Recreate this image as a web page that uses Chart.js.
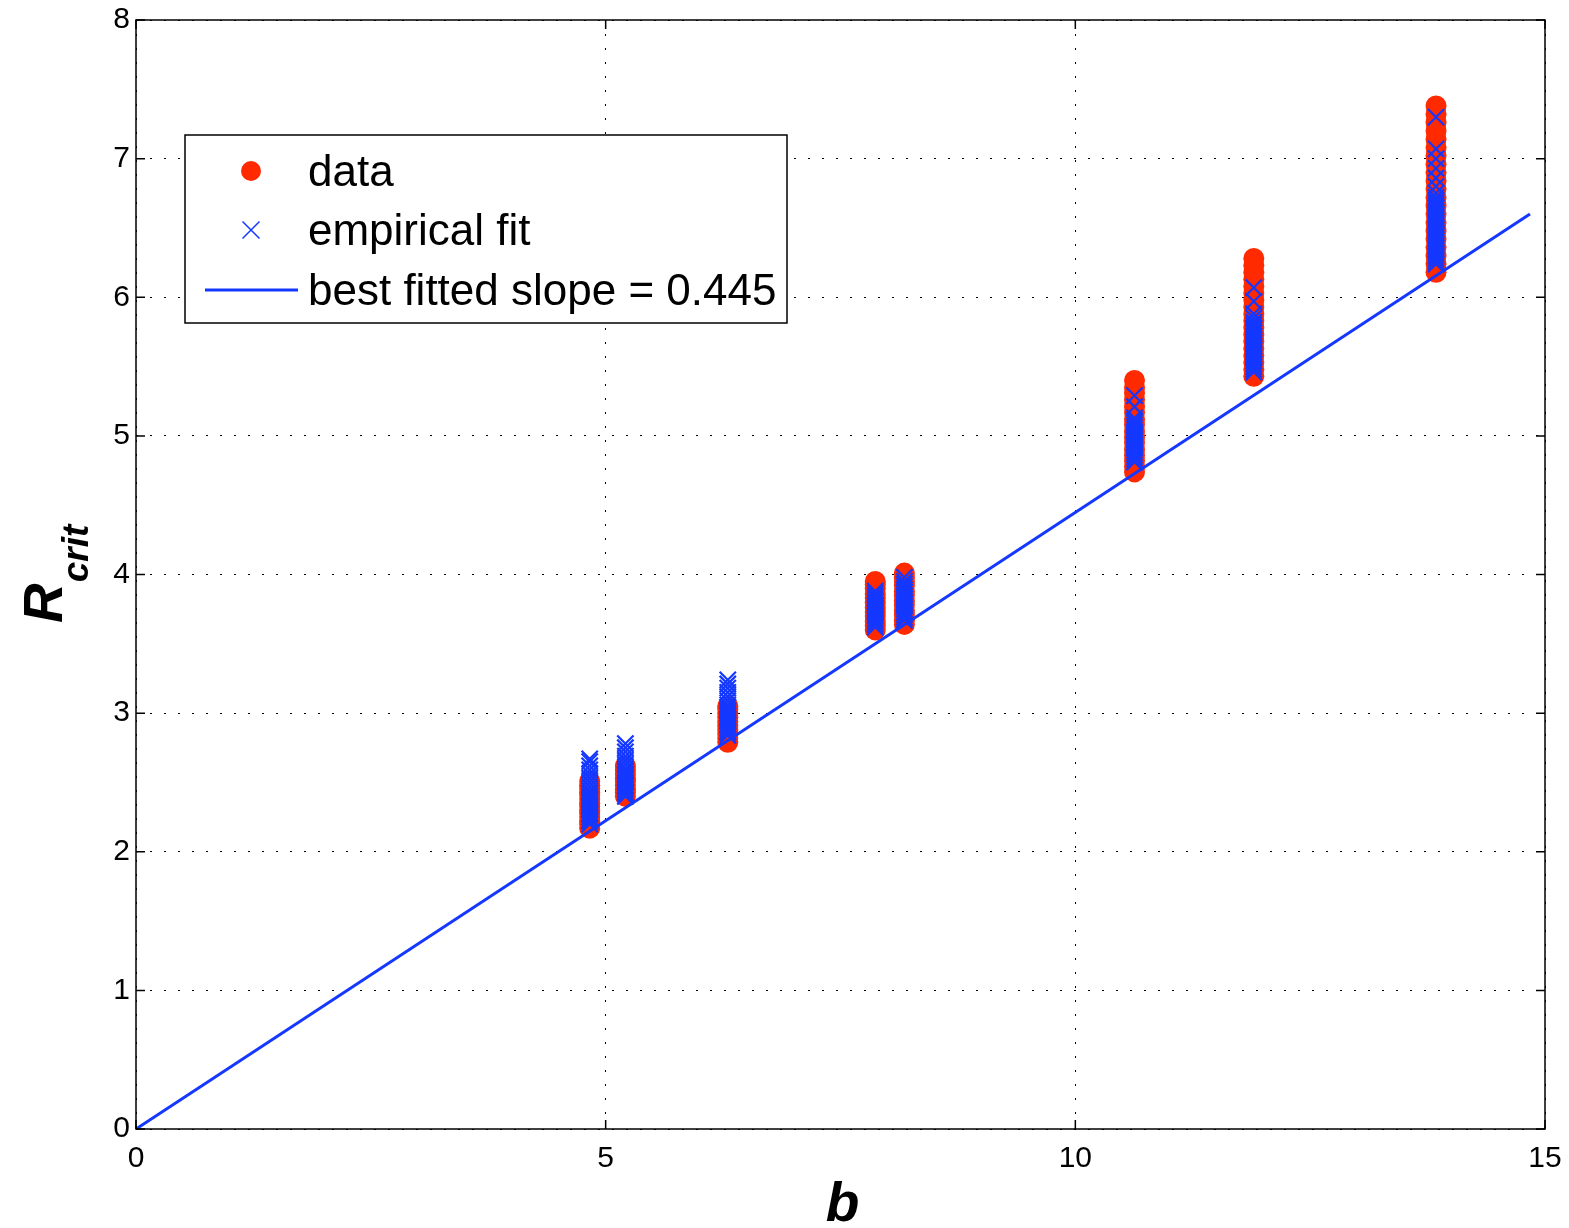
<!DOCTYPE html>
<html>
<head>
<meta charset="utf-8">
<title>R_crit vs b</title>
<script src="https://cdn.jsdelivr.net/npm/chart.js@4.4.0/dist/chart.umd.min.js"></script>
<style>
  html, body { margin: 0; padding: 0; background: #fff; }
  #wrap { width: 1569px; height: 1228px; position: relative; }
</style>
</head>
<body>
<div id="wrap"><canvas id="chart-rcrit"></canvas></div>
<script>
// b value of each cluster of runs
const clusterB = [4.83, 5.21, 6.30, 7.87, 8.18, 10.63, 11.90, 13.84];

// measured R_crit (red dots), one list per cluster
const dataR = [
  [2.17, 2.20, 2.22, 2.25, 2.28, 2.30, 2.33, 2.35, 2.38, 2.41, 2.43, 2.46, 2.48, 2.51],
  [2.40, 2.43, 2.45, 2.48, 2.51, 2.53, 2.56, 2.59, 2.62],
  [2.79, 2.82, 2.85, 2.88, 2.91, 2.94, 2.97, 3.00, 3.03, 3.05],
  [3.60, 3.63, 3.66, 3.70, 3.73, 3.76, 3.80, 3.83, 3.86, 3.90, 3.93, 3.95],
  [3.64, 3.67, 3.71, 3.74, 3.78, 3.81, 3.85, 3.88, 3.92, 3.95, 3.98, 4.01],
  [4.74, 4.78, 4.82, 4.86, 4.90, 4.95, 4.99, 5.03, 5.08, 5.12, 5.17, 5.21, 5.26, 5.31, 5.35, 5.40],
  [5.43, 5.48, 5.53, 5.58, 5.63, 5.68, 5.73, 5.78, 5.83, 5.88, 5.93, 5.98, 6.03, 6.08, 6.13, 6.18, 6.23, 6.28],
  [6.18, 6.24, 6.30, 6.36, 6.42, 6.48, 6.54, 6.60, 6.66, 6.72, 6.78, 6.84, 6.90, 6.96, 7.02, 7.08, 7.14, 7.20, 7.26, 7.32, 7.38]
];

// empirical fit (blue crosses), one list per cluster
const fitR = [
  [2.20, 2.22, 2.23, 2.25, 2.27, 2.28, 2.30, 2.32, 2.33, 2.35, 2.37, 2.38, 2.40, 2.42, 2.44, 2.47, 2.50, 2.53, 2.56, 2.59, 2.62, 2.65, 2.67],
  [2.40, 2.42, 2.43, 2.45, 2.47, 2.48, 2.50, 2.52, 2.54, 2.56, 2.58, 2.60, 2.63, 2.66, 2.69, 2.72, 2.75, 2.78],
  [2.84, 2.86, 2.87, 2.89, 2.91, 2.92, 2.94, 2.96, 2.98, 3.00, 3.02, 3.04, 3.06, 3.09, 3.12, 3.15, 3.18, 3.21, 3.24],
  [3.62, 3.64, 3.66, 3.68, 3.70, 3.72, 3.74, 3.76, 3.78, 3.80, 3.82, 3.84, 3.86, 3.88],
  [3.67, 3.69, 3.71, 3.73, 3.75, 3.77, 3.79, 3.81, 3.83, 3.85, 3.87, 3.89, 3.91, 3.93, 3.95, 3.98],
  [4.81, 4.83, 4.85, 4.87, 4.89, 4.91, 4.93, 4.95, 4.97, 4.99, 5.01, 5.03, 5.05, 5.07, 5.09, 5.11, 5.13, 5.21, 5.29],
  [5.46, 5.48, 5.50, 5.52, 5.54, 5.56, 5.58, 5.60, 5.62, 5.64, 5.66, 5.68, 5.70, 5.72, 5.74, 5.76, 5.78, 5.80, 5.82, 5.85, 5.88, 5.97, 6.07],
  [6.24, 6.26, 6.28, 6.30, 6.32, 6.34, 6.36, 6.38, 6.40, 6.42, 6.44, 6.46, 6.48, 6.50, 6.52, 6.54, 6.56, 6.58, 6.60, 6.62, 6.64, 6.66, 6.68, 6.70, 6.72, 6.75, 6.80, 6.86, 6.93, 7.00, 7.07, 7.30]
];

// ends of the best fitted line through the origin
const lineB = [0, 14.84];
const lineR = [0, 6.60];

const xTicks = [0, 5, 10, 15];
const yTicks = [0, 1, 2, 3, 4, 5, 6, 7, 8];

const RED = '#ff2a00';
const BLUE = '#1438ff';
const FONT = '"Liberation Sans", Arial, Helvetica, sans-serif';

function toPoints(bs, lists) {
  const pts = [];
  lists.forEach((list, i) => list.forEach(r => pts.push({ x: bs[i], y: r })));
  return pts;
}

// box round the axes with inward ticks, like matlab
const boxPlugin = {
  id: 'box',
  afterDatasetsDraw(chart) {
    const { ctx, chartArea: a, scales } = chart;
    ctx.save();
    ctx.strokeStyle = '#000';
    ctx.lineWidth = 1.5;
    ctx.strokeRect(a.left, a.top, a.right - a.left, a.bottom - a.top);
    const tl = 9;
    ctx.beginPath();
    xTicks.forEach(v => {
      const px = scales.x.getPixelForValue(v);
      ctx.moveTo(px, a.bottom); ctx.lineTo(px, a.bottom - tl);
      ctx.moveTo(px, a.top); ctx.lineTo(px, a.top + tl);
    });
    yTicks.forEach(v => {
      const py = scales.y.getPixelForValue(v);
      ctx.moveTo(a.left, py); ctx.lineTo(a.left + tl, py);
      ctx.moveTo(a.right, py); ctx.lineTo(a.right - tl, py);
    });
    ctx.stroke();
    ctx.restore();
  }
};

// legend box inside the axes
const legendPlugin = {
  id: 'boxLegend',
  afterDraw(chart) {
    const { ctx, chartArea: a } = chart;
    const x0 = a.left + 49, y0 = a.top + 115, w = 602, h = 188;
    ctx.save();
    ctx.fillStyle = '#fff';
    ctx.fillRect(x0, y0, w, h);
    ctx.strokeStyle = '#000';
    ctx.lineWidth = 1.5;
    ctx.strokeRect(x0, y0, w, h);

    const rows = [y0 + 36, y0 + 95, y0 + 155];
    const mx = x0 + 66;
    const ds = chart.data.datasets;

    // data marker
    ctx.fillStyle = RED;
    ctx.beginPath();
    ctx.arc(mx, rows[0], 10, 0, Math.PI * 2);
    ctx.fill();
    // fit marker
    ctx.strokeStyle = BLUE;
    ctx.lineWidth = 1.5;
    const d = 12 * Math.SQRT1_2;
    ctx.beginPath();
    ctx.moveTo(mx - d, rows[1] - d); ctx.lineTo(mx + d, rows[1] + d);
    ctx.moveTo(mx + d, rows[1] - d); ctx.lineTo(mx - d, rows[1] + d);
    ctx.stroke();
    // line sample
    ctx.lineWidth = 3;
    ctx.beginPath();
    ctx.moveTo(x0 + 20, rows[2]); ctx.lineTo(x0 + 113, rows[2]);
    ctx.stroke();

    ctx.fillStyle = '#000';
    ctx.font = '44px ' + FONT;
    ctx.textBaseline = 'alphabetic';
    ctx.textAlign = 'left';
    ds.forEach((set, i) => ctx.fillText(set.label, x0 + 123, rows[i] + 15));
    ctx.restore();
  }
};

// axis titles (R with subscript crit)
const titlePlugin = {
  id: 'titles',
  afterDraw(chart) {
    const { ctx, chartArea: a } = chart;
    ctx.save();
    ctx.fillStyle = '#000';
    ctx.textBaseline = 'alphabetic';
    ctx.font = 'italic bold 55px ' + FONT;
    ctx.textAlign = 'center';
    ctx.fillText('b', (a.left + a.right) / 2 + 2, 1221);

    ctx.translate(62, 623);
    ctx.rotate(-Math.PI / 2);
    ctx.textAlign = 'left';
    ctx.font = 'italic bold 55px ' + FONT;
    ctx.fillText('R', 0, 0);
    const rw = ctx.measureText('R').width;
    ctx.font = 'italic bold 37px ' + FONT;
    ctx.fillText('crit', rw + 1, 26);
    ctx.restore();
  }
};

document.addEventListener('DOMContentLoaded', function() {
  const ctx = document.getElementById('chart-rcrit');
  new Chart(ctx, {
    type: 'scatter',
    data: {
      datasets: [{
        label: 'data',
        data: toPoints(clusterB, dataR),
        pointStyle: 'circle',
        pointRadius: 10.5,
        backgroundColor: RED,
        borderColor: RED,
        borderWidth: 0,
        order: 3
      }, {
        label: 'empirical fit',
        data: toPoints(clusterB, fitR),
        pointStyle: 'crossRot',
        pointRadius: 11.5,
        borderColor: BLUE,
        backgroundColor: BLUE,
        borderWidth: 2.2,
        order: 2
      }, {
        label: 'best fitted slope = 0.445',
        data: lineB.map((b, i) => ({ x: b, y: lineR[i] })),
        showLine: true,
        pointRadius: 0,
        borderColor: BLUE,
        borderWidth: 3,
        order: 1
      }]
    },
    options: {
      responsive: true,
      maintainAspectRatio: false,
      animation: false,
      layout: { padding: { top: 20, right: 24, left: 0, bottom: 0 } },
      plugins: {
        legend: { display: false },
        tooltip: { enabled: false }
      },
      scales: {
        x: {
          type: 'linear',
          min: 0,
          max: 15,
          afterFit: s => { s.height = 99; s.paddingLeft = 0; s.paddingRight = 0; },
          afterBuildTicks: s => { s.ticks = xTicks.map(v => ({ value: v })); },
          ticks: { color: '#000', font: { size: 30, family: FONT }, padding: 12, maxRotation: 0 },
          grid: { color: '#000', lineWidth: 1, drawTicks: false },
          border: { display: false, dash: [2, 12] }
        },
        y: {
          type: 'linear',
          min: 0,
          max: 8,
          afterFit: s => { s.width = 136; s.paddingTop = 0; s.paddingBottom = 0; },
          afterBuildTicks: s => { s.ticks = yTicks.map(v => ({ value: v })); },
          ticks: { color: '#000', font: { size: 30, family: FONT }, padding: 6 },
          grid: { color: '#000', lineWidth: 1, drawTicks: false },
          border: { display: false, dash: [2, 12] }
        }
      }
    },
    plugins: [boxPlugin, legendPlugin, titlePlugin]
  });
});
</script>
</body>
</html>
